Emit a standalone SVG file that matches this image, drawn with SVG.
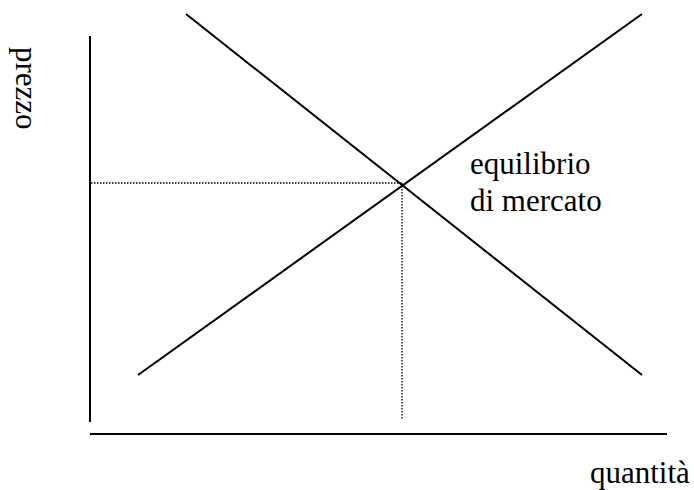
<svg xmlns="http://www.w3.org/2000/svg" width="694" height="490" viewBox="0 0 694 490">
<style>
.ax{stroke:#000;stroke-width:2;fill:none}
.ln{stroke:#000;stroke-width:2;fill:none}
.dt{stroke:#000;stroke-width:1.3;stroke-dasharray:1.5,1.5;fill:none}
</style>
<rect width="694" height="490" fill="#fff"/>
<g id="connectors">
<line id="y-axis" class="ax" x1="90" y1="36" x2="90" y2="422"/>
<line id="x-axis" class="ax" x1="90" y1="434" x2="667" y2="434"/>
<line id="domanda" class="ln" x1="186" y1="14" x2="642" y2="375"/>
<line id="offerta" class="ln" x1="138" y1="375" x2="642" y2="14"/>
<line class="dt" x1="91" y1="183" x2="402" y2="183"/>
<line class="dt" x1="402" y1="183" x2="402" y2="420"/>
</g>
<g font-family="Liberation Serif" font-size="31" fill="#000">
<g id="label-prezzo"><text x="16" y="47" transform="rotate(90 16 47)">prezzo</text></g>
<g id="label-equilibrio"><text x="470" y="174">equilibrio</text><text x="470" y="211">di mercato</text></g>
<g id="label-quantita"><text x="590" y="483">quantità</text></g>
</g>
</svg>
